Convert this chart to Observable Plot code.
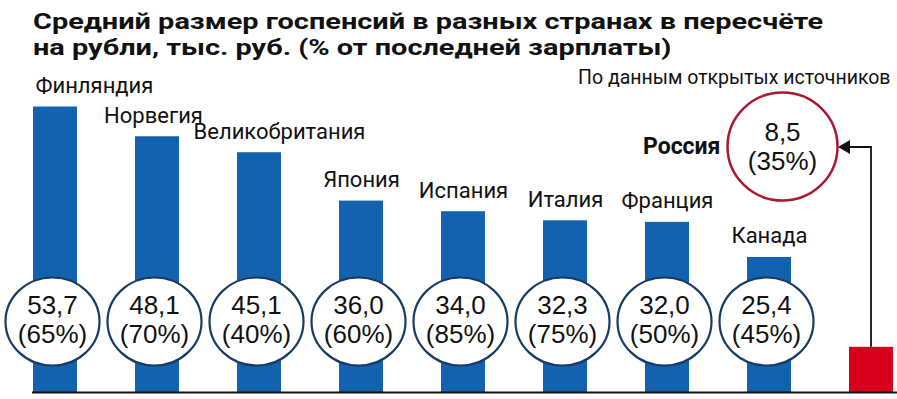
<!DOCTYPE html>
<html><head><meta charset="utf-8">
<script src="https://cdn.jsdelivr.net/npm/d3@7"></script>
<script src="https://cdn.jsdelivr.net/npm/@observablehq/plot@0.6"></script>
<style>
body{margin:0;background:#fff;width:897px;height:399px;overflow:hidden;position:relative;}
#title{position:absolute;left:33px;top:9px;font-family:Roboto;font-weight:bold;font-size:21.5px;color:#111;white-space:nowrap;transform-origin:0 0;}
#title div{display:block;height:25.5px;line-height:25.5px;}
#chart{position:absolute;left:0;top:65px;}
</style></head><body>
<div id="title"><div id="t1">Средний размер госпенсий в разных странах в пересчёте</div><div>на рубли, тыс. руб. (% от последней зарплаты)</div></div>
<div id="chart"></div>
<script>
const countries = ["Финляндия","Норвегия","Великобритания","Япония","Испания","Италия","Франция","Канада","Россия"];
const pensions = [53.7, 48.1, 45.1, 36.0, 34.0, 32.3, 32.0, 25.4, 8.5];
const shares = [65, 70, 40, 60, 85, 75, 50, 45, 35];
const note = "По данным открытых источников";
const highlight = "Россия";

const data = countries.map((c, i) => ({
  country: c,
  value: pensions[i],
  share: shares[i],
  label: pensions[i].toFixed(1).replace(".", ",") + "\n(" + shares[i] + "%)"
}));
const others = data.filter(d => d.country !== highlight);
const russia = data.filter(d => d.country === highlight);

// stretch the bold title horizontally like the original's wide heading face
const t1 = document.getElementById("t1");
const titleEl = document.getElementById("title");
const rng = document.createRange();
rng.selectNodeContents(t1);
const sx = 790 / rng.getBoundingClientRect().width;
titleEl.style.transform = `scaleX(${sx})`;

// ellipse symbol (the source image is slightly stretched horizontally)
const ellipse = (rx, ry) => ({
  draw(ctx) {
    const k = 0.5523;
    ctx.moveTo(rx, 0);
    ctx.bezierCurveTo(rx, ry * k, rx * k, ry, 0, ry);
    ctx.bezierCurveTo(-rx * k, ry, -rx, ry * k, -rx, 0);
    ctx.bezierCurveTo(-rx, -ry * k, -rx * k, -ry, 0, -ry);
    ctx.bezierCurveTo(rx * k, -ry, rx, -ry * k, rx, 0);
    ctx.closePath();
  }
});

const blue = "#1262b0", red = "#d8001d", navy = "#193c66", wine = "#a8182f";
const labelFont = {fontFamily: "Roboto", fontSize: 22, fill: "#111", lineAnchor: "bottom", dy: -14};
const valueFont = {fontFamily: "Liberation Sans", fontSize: 26, lineHeight: 1.08, fill: "#111", lineAnchor: "middle"};

const arrow = (index, scales, values, dimensions) => {
  const x = scales.x, y = scales.y;
  const bw = x.bandwidth ? x.bandwidth() : 0;
  const cx = x(highlight) + bw / 2;
  const top = y(pensions[countries.indexOf(highlight)]);
  const ay = dimensions.marginTop + 74;
  const tipX = cx - 89 + 55 + 1;
  const g = d3.create("svg:g");
  g.append("path").attr("d", `M${cx},${top}V${ay}H${tipX + 10}`)
    .attr("fill", "none").attr("stroke", "#111").attr("stroke-width", 1.8);
  g.append("path").attr("d", `M${tipX},${ay}l12,-7v14z`).attr("fill", "#111");
  return g.node();
};

const chart = Plot.plot({
  width: 897, height: 334,
  marginTop: 8, marginBottom: 7, marginLeft: 32, marginRight: 4,
  x: {type: "band", domain: countries, paddingInner: 0.57, paddingOuter: 0, axis: null},
  y: {domain: [0, 60], axis: null},
  style: {fontFamily: "Roboto", background: "transparent"},
  marks: [
    Plot.barY(others, {x: "country", y: "value", fill: blue}),
    Plot.barY(russia, {x: "country", y: "value", fill: red}),
    Plot.ruleY([0], {stroke: "#111", strokeWidth: 2, insetRight: -5}),
    arrow,
    Plot.dot(others, {x: "country", frameAnchor: "bottom", dy: -71, dx: -3, symbol: ellipse(47, 44), r: 45, fill: "white", stroke: navy, strokeWidth: 2.2}),
    Plot.text(others, {x: "country", frameAnchor: "bottom", dy: -73, dx: -3, text: "label", ...valueFont}),
    Plot.text(others.filter(d => d.country === countries[0]), {x: "country", y: "value", text: "country", textAnchor: "start", ...labelFont, dx: -20}),
    Plot.text(others.filter(d => d.country === countries[1]), {x: "country", y: "value", text: "country", ...labelFont, dx: -4}),
    Plot.text(others.filter(d => d.country === countries[2]), {x: "country", y: "value", text: "country", ...labelFont, dx: 20}),
    Plot.text(others.filter(d => countries.indexOf(d.country) > 2), {x: "country", y: "value", text: "country", ...labelFont}),
    Plot.dot(russia, {x: "country", frameAnchor: "top", dy: 73, dx: -89, symbol: ellipse(55, 54), r: 54, fill: "white", stroke: wine, strokeWidth: 2.5}),
    Plot.text(russia, {x: "country", frameAnchor: "top", dy: 73, dx: -89, text: "label", ...valueFont}),
    Plot.text(russia, {x: "country", frameAnchor: "top", dy: 73, dx: -151, text: "country", textAnchor: "end", lineAnchor: "middle", fontFamily: "Roboto", fontWeight: "bold", fontSize: 23, fill: "#111"}),
    Plot.text([note], {frameAnchor: "top-right", dy: 10, dx: -3, text: d => d, textAnchor: "end", lineAnchor: "bottom", fontFamily: "Roboto", fontSize: 19.5, fill: "#111"})
  ]
});
document.getElementById("chart").appendChild(chart);
</script>
</body></html>
